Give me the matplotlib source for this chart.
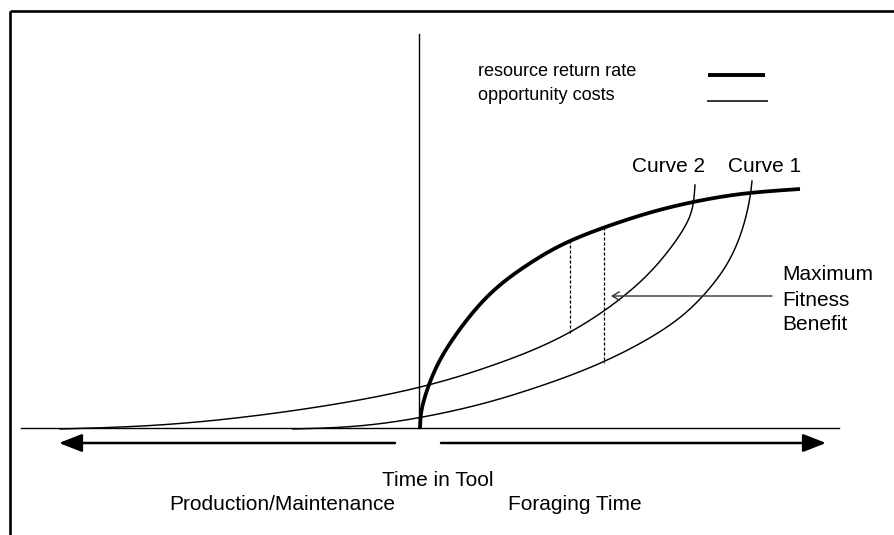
import numpy as np
import matplotlib
matplotlib.use("Agg")
import matplotlib.pyplot as plt

plt.rcParams['font.family'] = ['Liberation Sans', 'DejaVu Sans']

# Curves (x, y in picture pixel space, y downward)
return_x = [420, 421, 424, 430, 440, 455, 475, 500, 535, 570, 620, 667, 720, 760, 800]
return_y = [428, 414, 400, 382, 360, 336, 310, 285, 260, 241, 222, 208, 197, 192, 189]

curve2_x = [60, 173, 307, 420, 500, 570, 633, 667, 687, 693, 695]
curve2_y = [429, 424, 408.6, 387.1, 362.7, 332.1, 288.3, 252.6, 222.6, 204.6, 185]

curve1_x = [293, 373, 467, 533, 603, 667, 700, 727, 743, 750, 752]
curve1_y = [429, 424.5, 407.6, 388.5, 361.9, 327, 299, 264, 227, 197, 181]

# Dashed benefit lines: x, top, bottom
dash_x = [570, 604]
dash_top = [240, 227]
dash_bot = [333, 363]

labels_legend = ["resource return rate", "opportunity costs"]
curve_labels = ["Curve 2", "Curve 1"]


def _natural_spline(t, v, tt):
    n = len(t)
    h = np.diff(t)
    A = np.zeros((n, n))
    r = np.zeros(n)
    A[0, 0] = A[-1, -1] = 1.0
    for i in range(1, n - 1):
        A[i, i - 1] = h[i - 1]
        A[i, i] = 2 * (h[i - 1] + h[i])
        A[i, i + 1] = h[i]
        r[i] = 6 * ((v[i + 1] - v[i]) / h[i] - (v[i] - v[i - 1]) / h[i - 1])
    M = np.linalg.solve(A, r)
    idx = np.clip(np.searchsorted(t, tt) - 1, 0, n - 2)
    t0, t1 = t[idx], t[idx + 1]
    hh = t1 - t0
    a = (t1 - tt) / hh
    b = (tt - t0) / hh
    return (a * v[idx] + b * v[idx + 1]
            + ((a**3 - a) * M[idx] + (b**3 - b) * M[idx + 1]) * hh**2 / 6)


def smooth(xs, ys, n=600):
    """C2 parametric spline through the read points (drawing only)."""
    xs = np.asarray(xs, float)
    ys = np.asarray(ys, float)
    t = np.concatenate([[0], np.cumsum(np.hypot(np.diff(xs), np.diff(ys)) ** 0.5)])
    tt = np.linspace(0, t[-1], n)
    return _natural_spline(t, xs, tt), _natural_spline(t, ys, tt)


fig = plt.figure(figsize=(8.94, 5.35), dpi=100)
ax = fig.add_axes([0, 0, 1, 1])
ax.set_xlim(0, 894)
ax.set_ylim(535, 0)
ax.axis('off')

# border (top and left)
ax.plot([10, 894], [11, 11], color='black', lw=1.9, solid_capstyle='butt')
ax.plot([10, 10], [11, 535], color='black', lw=1.9, solid_capstyle='butt')

# axes
ax.plot([21, 839], [428, 428], color='black', lw=1.0)
ax.plot([418.5, 418.5], [34, 428], color='black', lw=1.0)

# curves
x, y = smooth(curve2_x, curve2_y)
ax.plot(x, y, color='black', lw=1.05)
x, y = smooth(curve1_x, curve1_y)
ax.plot(x, y, color='black', lw=1.05)
x, y = smooth(return_x, return_y)
ax.plot(x, y, color='black', lw=2.7, solid_capstyle='butt')

# dashed lines
for dx, t, b in zip(dash_x, dash_top, dash_bot):
    ax.plot([dx, dx], [t, b], color='black', lw=0.9, ls=(0, (2.5, 1.5)))

# bottom arrows
ax.annotate('', xy=(59, 443), xytext=(395, 443),
            arrowprops=dict(arrowstyle='-|>,head_length=1.4,head_width=0.55', color='black', lw=1.8,
                            shrinkA=0, shrinkB=0))
ax.annotate('', xy=(826, 443), xytext=(441, 443),
            arrowprops=dict(arrowstyle='-|>,head_length=1.4,head_width=0.55', color='black', lw=1.8,
                            shrinkA=0, shrinkB=0))

# maximum fitness benefit arrow
ax.annotate('', xy=(611, 296), xytext=(772, 296),
            arrowprops=dict(arrowstyle='->,head_length=0.5,head_width=0.3', color='#333333', lw=1.0,
                            shrinkA=0, shrinkB=0))

# legend
ax.text(478, 72, labels_legend[0], fontsize=13.1, va='center', ha='left')
ax.text(478, 95, labels_legend[1], fontsize=13.1, va='center', ha='left')
ax.plot([708, 765], [75, 75], color='black', lw=2.8, solid_capstyle='butt')
ax.plot([707, 768], [101, 101], color='black', lw=1.1, solid_capstyle='butt')

# curve labels
ax.text(668, 166, curve_labels[0], fontsize=15, ha='center', va='center')
ax.text(765, 166, curve_labels[1], fontsize=15, ha='center', va='center')

# maximum fitness benefit
ax.text(782, 274, "Maximum", fontsize=15, ha='left', va='center')
ax.text(782, 300, "Fitness", fontsize=15, ha='left', va='center')
ax.text(782, 325, "Benefit", fontsize=15, ha='left', va='center')

# bottom labels
ax.text(438, 480, "Time in Tool", fontsize=15, ha='center', va='center')
ax.text(282, 504, "Production/Maintenance", fontsize=15, ha='center', va='center')
ax.text(575, 504, "Foraging Time", fontsize=15, ha='center', va='center')

fig.savefig('out.png', dpi=100)
